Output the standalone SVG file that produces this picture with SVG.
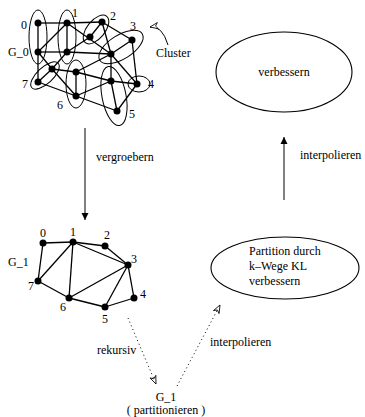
<svg xmlns="http://www.w3.org/2000/svg" width="365" height="417" viewBox="0 0 365 417">
<style>
text{font-family:"Liberation Serif","Times New Roman",serif;font-size:12px;fill:#000}
.e{stroke:#000;stroke-width:1.3;fill:none}
.c{stroke:#000;stroke-width:1;fill:none}
.n{fill:#000}
.a{stroke:#000;stroke-width:1;fill:none}
.d{stroke:#000;stroke-width:1;fill:none;stroke-dasharray:1 3}
</style>
<defs>
<marker id="solid" viewBox="0 0 10 10" refX="10" refY="5" markerWidth="7" markerHeight="9" orient="auto" markerUnits="userSpaceOnUse"><path d="M0,0 L10,5 L0,10 z" fill="#000"/></marker>
<marker id="open" viewBox="0 0 10 10" refX="10" refY="5" markerWidth="9" markerHeight="8" orient="auto" markerUnits="userSpaceOnUse"><path d="M0,1 L10,5 L0,9 L3,5 z" fill="#fff" stroke="#000" stroke-width="1"/></marker>
</defs>

<g id="G0">
<g id="g0-edges">
<line class="e" x1="38" y1="23" x2="67" y2="23"/>
<line class="e" x1="38" y1="23" x2="38" y2="52"/>
<line class="e" x1="67" y1="23" x2="67" y2="52"/>
<line class="e" x1="38" y1="52" x2="67" y2="52"/>
<line class="e" x1="38" y1="52" x2="67" y2="23"/>
<line class="e" x1="67" y1="23" x2="102" y2="22"/>
<line class="e" x1="67" y1="23" x2="111" y2="54"/>
<line class="e" x1="102" y1="22" x2="90" y2="37"/>
<line class="e" x1="102" y1="22" x2="111" y2="54"/>
<line class="e" x1="102" y1="22" x2="132" y2="40"/>
<line class="e" x1="67" y1="52" x2="90" y2="37"/>
<line class="e" x1="67" y1="52" x2="111" y2="54"/>
<line class="e" x1="132" y1="40" x2="111" y2="54"/>
<line class="e" x1="132" y1="40" x2="137" y2="84"/>
<line class="e" x1="111" y1="54" x2="137" y2="84"/>
<line class="e" x1="111" y1="54" x2="76" y2="72"/>
<line class="e" x1="111" y1="54" x2="111" y2="81"/>
<line class="e" x1="38" y1="52" x2="38" y2="82"/>
<line class="e" x1="38" y1="52" x2="52" y2="69"/>
<line class="e" x1="67" y1="52" x2="52" y2="69"/>
<line class="e" x1="38" y1="82" x2="52" y2="69"/>
<line class="e" x1="52" y1="69" x2="76" y2="72"/>
<line class="e" x1="52" y1="69" x2="76" y2="96"/>
<line class="e" x1="38" y1="82" x2="76" y2="96"/>
<line class="e" x1="76" y1="72" x2="76" y2="96"/>
<line class="e" x1="76" y1="72" x2="111" y2="81"/>
<line class="e" x1="76" y1="96" x2="111" y2="81"/>
<line class="e" x1="76" y1="96" x2="117" y2="111"/>
<line class="e" x1="111" y1="81" x2="117" y2="111"/>
<line class="e" x1="111" y1="81" x2="137" y2="84"/>
<line class="e" x1="137" y1="84" x2="117" y2="111"/>
</g>
<g id="g0-clusters">
<ellipse class="c" cx="38" cy="37" rx="9" ry="27"/>
<ellipse class="c" cx="67" cy="37" rx="9" ry="27"/>
<ellipse class="c" cx="96" cy="29.5" rx="17" ry="9" transform="rotate(-51 96 29.5)"/>
<ellipse class="c" cx="121" cy="47" rx="25" ry="12" transform="rotate(-32 121 47)"/>
<ellipse class="c" cx="45" cy="75.5" rx="18" ry="8" transform="rotate(-43 45 75.5)"/>
<ellipse class="c" cx="76" cy="84" rx="10" ry="24"/>
<ellipse class="c" cx="114" cy="96" rx="12" ry="30" transform="rotate(-11 114 96)"/>
<ellipse class="c" cx="139" cy="84" rx="11" ry="8"/>
</g>
<g id="g0-nodes">
<circle class="n" cx="38" cy="23" r="3.5"/><circle class="n" cx="38" cy="52" r="3.5"/>
<circle class="n" cx="67" cy="23" r="3.5"/><circle class="n" cx="67" cy="52" r="3.5"/>
<circle class="n" cx="102" cy="22" r="3.5"/><circle class="n" cx="90" cy="37" r="3.5"/>
<circle class="n" cx="132" cy="40" r="3.5"/><circle class="n" cx="111" cy="54" r="3.5"/>
<circle class="n" cx="38" cy="82" r="3.5"/><circle class="n" cx="52" cy="69" r="3.5"/>
<circle class="n" cx="76" cy="72" r="3.5"/><circle class="n" cx="76" cy="96" r="3.5"/>
<circle class="n" cx="111" cy="81" r="3.5"/><circle class="n" cx="117" cy="111" r="3.5"/>
<circle class="n" cx="137" cy="84" r="3.5"/>
</g>
<g id="g0-labels">
<text x="21" y="29">0</text>
<text x="72" y="17">1</text>
<text x="110" y="20">2</text>
<text x="130" y="30">3</text>
<text x="148" y="88">4</text>
<text x="129" y="118">5</text>
<text x="57" y="109">6</text>
<text x="22" y="88">7</text>
<text x="8" y="56">G_0</text>
<text x="156" y="57">Cluster</text>
</g>
<path class="a" d="M168,45 Q162,25 150,27" marker-end="url(#open)"/>
</g>

<g id="G1">
<g id="g1-edges">
<line class="e" x1="43" y1="243" x2="73" y2="242"/>
<line class="e" x1="73" y1="242" x2="105" y2="246"/>
<line class="e" x1="43" y1="243" x2="38" y2="281"/>
<line class="e" x1="38" y1="281" x2="73" y2="242"/>
<line class="e" x1="73" y1="242" x2="69" y2="298"/>
<line class="e" x1="73" y1="242" x2="128" y2="265"/>
<line class="e" x1="105" y1="246" x2="128" y2="265"/>
<line class="e" x1="38" y1="281" x2="69" y2="298"/>
<line class="e" x1="69" y1="298" x2="128" y2="265"/>
<line class="e" x1="128" y1="265" x2="105" y2="307"/>
<line class="e" x1="128" y1="265" x2="134" y2="298"/>
<line class="e" x1="69" y1="298" x2="105" y2="307"/>
<line class="e" x1="105" y1="307" x2="134" y2="298"/>
</g>
<g id="g1-nodes">
<circle class="n" cx="43" cy="243" r="3.5"/><circle class="n" cx="73" cy="242" r="3.5"/>
<circle class="n" cx="105" cy="246" r="3.5"/><circle class="n" cx="128" cy="265" r="3.5"/>
<circle class="n" cx="134" cy="298" r="3.5"/><circle class="n" cx="105" cy="307" r="3.5"/>
<circle class="n" cx="69" cy="298" r="3.5"/><circle class="n" cx="38" cy="281" r="3.5"/>
</g>
<g id="g1-labels">
<text x="40" y="237">0</text>
<text x="70" y="236">1</text>
<text x="104" y="239">2</text>
<text x="131" y="263">3</text>
<text x="140" y="298">4</text>
<text x="102" y="323">5</text>
<text x="60" y="311">6</text>
<text x="28" y="290">7</text>
<text x="8" y="266">G_1</text>
</g>
</g>

<g id="improve-top">
<ellipse class="e" cx="284" cy="72" rx="68" ry="40" style="stroke-width:1.1"/>
<text x="284" y="76" text-anchor="middle">verbessern</text>
</g>

<g id="improve-kl">
<ellipse class="e" cx="285" cy="268" rx="74" ry="31" style="stroke-width:1.1"/>
<text x="249" y="255">Partition durch</text>
<text x="249" y="270">k–Wege KL</text>
<text x="249" y="285">verbessern</text>
</g>

<g id="g1-partition">
<text x="166" y="401" text-anchor="middle">G_1</text>
<text x="166" y="414" text-anchor="middle">( partitionieren )</text>
</g>

<g id="connectors">
<line class="a" x1="85" y1="128" x2="85" y2="220" marker-end="url(#solid)"/>
<text x="96" y="161">vergroebern</text>
<line class="a" x1="284" y1="200" x2="284" y2="137" marker-end="url(#solid)"/>
<text x="300" y="159">interpolieren</text>
<line class="d" x1="128" y1="318" x2="156" y2="384" marker-end="url(#open)"/>
<text x="97" y="354">rekursiv</text>
<line class="d" x1="177" y1="386" x2="220" y2="305" marker-end="url(#open)"/>
<text x="210" y="346">interpolieren</text>
</g>
</svg>
